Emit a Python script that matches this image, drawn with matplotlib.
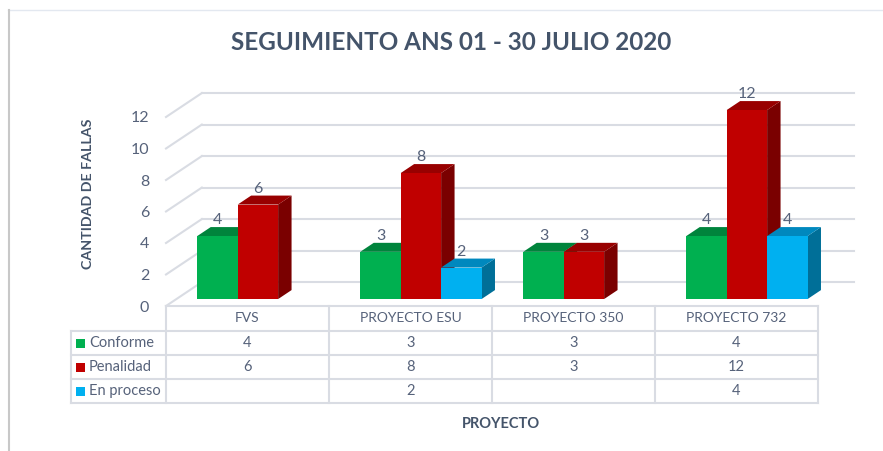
import matplotlib
matplotlib.use("Agg")
import matplotlib.pyplot as plt
from matplotlib.patches import Polygon, Rectangle
from matplotlib.transforms import blended_transform_factory

# data
categories = ["FVS", "PROYECTO ESU", "PROYECTO 350", "PROYECTO 732"]
series = ["Conforme", "Penalidad", "En proceso"]
conforme = [4, 3, 3, 4]
penalidad = [6, 8, 3, 12]
en_proceso = [None, 2, None, 4]
yticks = [0, 2, 4, 6, 8, 10, 12]

values = [conforme, penalidad, en_proceso]
front = ["#00B050", "#C00000", "#00B0F0"]
top = ["#00843C", "#980000", "#0088BE"]
side = ["#006E32", "#7A0000", "#006F98"]

TXT = "#56627A"
DARK = "#44546A"
GRID = "#D9DCE3"
plt.rcParams["font.family"] = ["Lato", "DejaVu Sans"]

W, H = 883, 451
fig = plt.figure(figsize=(W / 100, H / 100), dpi=100)

# pixel layer for table / frame
lay = fig.add_axes([0, 0, 1, 1])
lay.set_xlim(0, W)
lay.set_ylim(H, 0)
lay.axis("off")

# chart axes: x=-0.5 at 166px, 3.5 at 818px, y=0 at 306px, 15.75 px per unit
x0, x1, y0, ytop = 166, 818, 306, 80
ax = fig.add_axes([x0 / W, 1 - y0 / H, (x1 - x0) / W, (y0 - ytop) / H])
ax.set_xlim(-0.5, 3.5)
ax.set_ylim(0, (y0 - ytop) / 15.75)
ax.patch.set_alpha(0)
for s in ax.spines.values():
    s.set_visible(False)
ax.set_xticks([])
ax.set_yticks(yticks)
ax.tick_params(axis="y", length=0, pad=12, labelsize=11.5, labelcolor=TXT)

DX, DY = 0.22, 1.52          # back wall offset
d0, dd = 0.29, 0.375         # bar front depth, bar depth
bw = 0.248

# back wall gridlines + left wall diagonals
for v in yticks:
    ax.plot([-0.5 + DX, 3.5 + DX], [v + DY, v + DY], color=GRID, lw=1.5,
            clip_on=False, zorder=1)
    ax.plot([-0.5, -0.5 + DX], [v, v + DY], color=GRID, lw=1.5,
            clip_on=False, zorder=1)

# bars
for i in range(len(categories)):
    for j, vals in enumerate(values):
        v = vals[i]
        if v is None:
            continue
        xl = i - 1.5 * bw + j * bw + d0 * DX
        yb = d0 * DY
        yt = yb + v
        ddx, ddy = dd * DX, dd * DY
        z = 3 + i * 3 + j
        ax.add_patch(Polygon([(xl + bw, yb), (xl + bw, yt), (xl + bw + ddx, yt + ddy),
                              (xl + bw + ddx, yb + ddy)], closed=True,
                             facecolor=side[j], edgecolor="none", zorder=z, clip_on=False))
        ax.add_patch(Polygon([(xl, yt), (xl + bw, yt), (xl + bw + ddx, yt + ddy),
                              (xl + ddx, yt + ddy)], closed=True,
                             facecolor=top[j], edgecolor="none", zorder=z, clip_on=False))
        ax.bar(xl, v, bottom=yb, width=bw, align="edge", color=front[j],
               zorder=z, clip_on=False)
        ax.annotate(str(v), (xl + bw / 2, yt + ddy), xytext=(0, 0),
                    textcoords="offset points", ha="center", va="bottom",
                    fontsize=11.5, color=TXT, zorder=20, annotation_clip=False)

# data table
bt = blended_transform_factory(ax.transData, lay.transData)
rows = [306, 331, 355, 379, 403]
left = 71
for k, y in enumerate(rows):
    if k == 0:
        lay.plot([x0, x1], [y, y], color=GRID, lw=1.5)
    else:
        lay.plot([left, x1], [y, y], color=GRID, lw=1.5)
lay.plot([left, left], [rows[1], rows[-1]], color=GRID, lw=1.5)
for c in range(len(categories) + 1):
    lay.plot([c - 0.5, c - 0.5], [rows[0], rows[-1]], color=GRID, lw=1.5, transform=bt)

for i, cat in enumerate(categories):
    lay.text(i, (rows[0] + rows[1]) / 2, cat, transform=bt, ha="center", va="center",
             fontsize=10, color=TXT)
    for j, vals in enumerate(values):
        if vals[i] is None:
            continue
        lay.text(i, (rows[j + 1] + rows[j + 2]) / 2, str(vals[i]), transform=bt,
                 ha="center", va="center", fontsize=10.5, color=TXT)

for j, name in enumerate(series):
    yc = (rows[j + 1] + rows[j + 2]) / 2
    lay.add_patch(Rectangle((76, yc - 4.5), 9, 9, facecolor=front[j], edgecolor="none"))
    lay.text(89, yc, name, ha="left", va="center", fontsize=10.5, color=TXT)

# titles
lay.text(451, 43, "SEGUIMIENTO ANS 01 - 30 JULIO 2020", ha="center", va="center",
         fontsize=17.5, fontweight="bold", color=DARK)
lay.text(88, 194, "CANTIDAD DE FALLAS", ha="center", va="center", rotation=90,
         fontsize=10.3, fontweight="bold", color=DARK)
lay.text(501, 424, "PROYECTO", ha="center", va="center",
         fontsize=10.5, fontweight="bold", color=DARK)

# outer frame
lay.plot([8, W], [10, 10], color="#E3E8F0", lw=1.0)
lay.plot([9, 9], [10, H], color="#C8C8C8", lw=1.5)

fig.savefig("out.png", dpi=100)
